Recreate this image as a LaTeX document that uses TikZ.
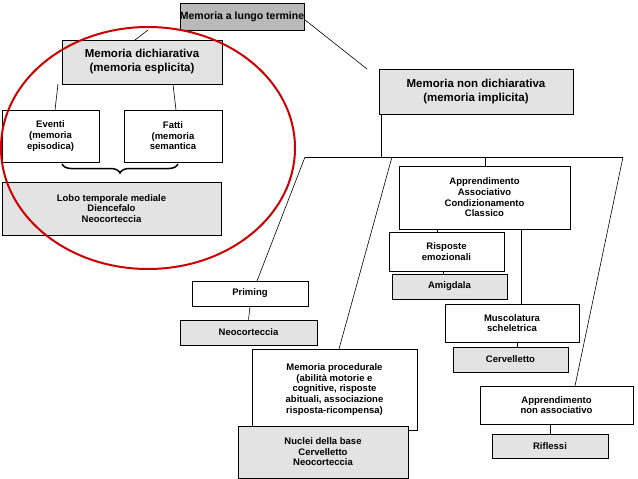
\documentclass[tikz,border=0pt]{standalone}
\usepackage{fontspec}
\setmainfont{Liberation Sans}
\usetikzlibrary{decorations.pathreplacing}
\begin{document}
\begin{tikzpicture}[x=1pt,y=-1pt,
  bx/.style={draw,line width=0.6pt,align=center,font=\bfseries\fontsize{9.5}{10.6}\selectfont,inner sep=0pt},
  big/.style={font=\bfseries\fontsize{11.5}{14}\selectfont},
  g/.style={fill=gray!22},
  dg/.style={fill=gray!55},
  ln/.style={line width=0.6pt}]
\useasboundingbox (0,0) rectangle (638,479);
\node[bx,big,dg,minimum width=122,minimum height=27,font=\bfseries\fontsize{10.5}{12}\selectfont] (top) at (242,16.5) {Memoria a lungo termine};
\node[bx,big,g,minimum width=160,minimum height=44] (dich) at (142,62) {Memoria dichiarativa\\(memoria esplicita)};
\node[bx,big,g,minimum width=194,minimum height=45] (ndich) at (476,91.5) {Memoria non dichiarativa\\(memoria implicita)};
\node[bx,minimum width=97,minimum height=52] (ev) at (50.5,136) {Eventi\\(memoria\\episodica)};
\node[bx,minimum width=98,minimum height=52] (fa) at (173,136) {Fatti\\(memoria\\semantica};
\node[bx,g,minimum width=219,minimum height=53] (lobo) at (111.5,208.5) {Lobo temporale mediale\\Diencefalo\\Neocorteccia};
\node[bx,minimum width=171,minimum height=63] (aa) at (484.5,197.5) {Apprendimento\\Associativo\\Condizionamento\\Classico};
\node[bx,minimum width=115,minimum height=39] (ris) at (446.5,251.5) {Risposte\\emozionali};
\node[bx,g,minimum width=115,minimum height=25] (ami) at (449.5,286.5) {Amigdala};
\node[bx,minimum width=134,minimum height=38] (mus) at (512,323) {Muscolatura\\scheletrica};
\node[bx,g,minimum width=115,minimum height=25] (cer) at (510.5,359.5) {Cervelletto};
\node[bx,minimum width=116,minimum height=25] (pri) at (250,293.5) {Priming};
\node[bx,g,minimum width=137,minimum height=25] (neo) at (248.5,332.5) {Neocorteccia};
\node[bx,minimum width=165,minimum height=81] (mp) at (334.5,389.5) {Memoria procedurale\\(abilità motorie e\\cognitive, risposte\\abituali, associazione\\risposta-ricompensa)};
\node[bx,g,minimum width=170,minimum height=52] (nuc) at (323,452) {Nuclei della base\\Cervelletto\\Neocorteccia};
\node[bx,minimum width=153,minimum height=38] (ana) at (556.5,405) {Apprendimento\\non associativo};
\node[bx,g,minimum width=116,minimum height=24] (rif) at (550,446) {Riflessi};
\coordinate (hl) at (305,157); \coordinate (hr) at (623,157);
\coordinate (h1) at (392,157); \coordinate (h2) at (381,157); \coordinate (h3) at (485,157);
\draw[ln] (148,30) -- (135,40);
\draw[ln] (top.east) ++(0,3) -- (367,69);
\draw[ln] (58,84) -- (55,110);
\draw[ln] (173,84) -- (176,110);
\draw[ln] (ndich.south -| h2) -- (h2);
\draw[ln] (hl) -- (hr);
\draw[ln] (hl) -- (257,281);
\draw[ln] (h1) -- (339,349);
\draw[ln] (hr) -- (575,386);
\draw[ln] (h3) -- (aa.north -| h3);
\draw[ln] (437,229) -- (437,232);
\draw[ln] (443,271) -- (443,274);
\draw[ln] (521,229) -- (521,304);
\draw[ln] (517,342) -- (517,347);
\draw[ln] (pri.south) -- (neo.north);
\draw[ln] (550,424) -- (550,434);
\draw[line width=1.5pt,decorate,decoration={brace,mirror,amplitude=9pt}] (62,164) -- (178,164);
\draw[red!80!black,line width=2pt] (148,148) ellipse [x radius=147, y radius=121];
\end{tikzpicture}
\end{document}
